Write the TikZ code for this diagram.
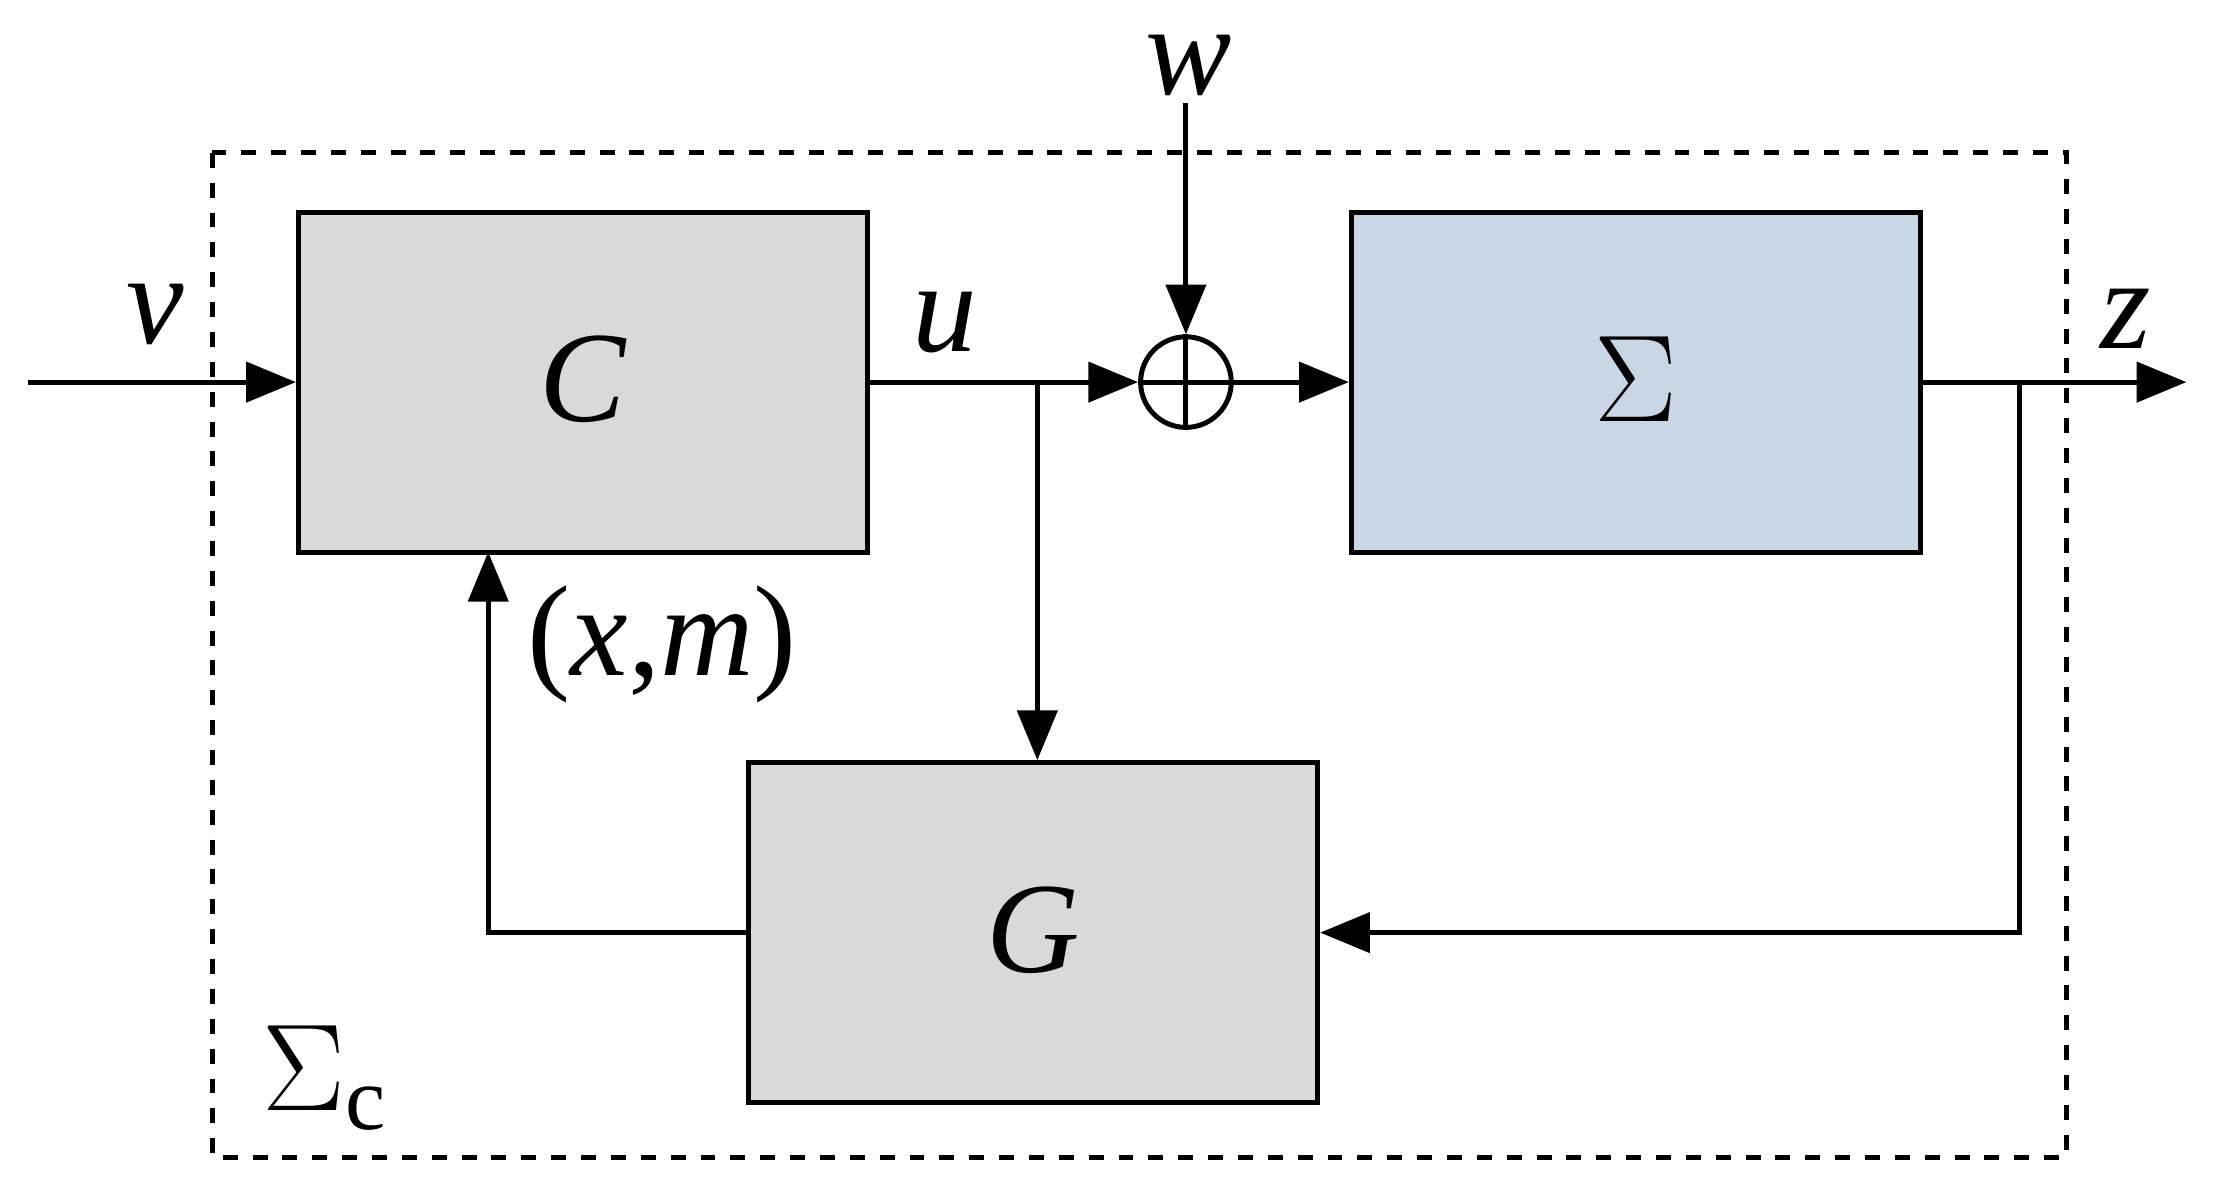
\documentclass[tikz,border=0pt]{standalone}
\usepackage{fontspec}
\setmainfont{Liberation Serif}
\usetikzlibrary{arrows.meta}
\definecolor{blockgray}{RGB}{217,217,217}
\definecolor{blockblue}{RGB}{201,214,229}
\begin{document}
\begin{tikzpicture}[x=0.01cm,y=-0.01cm,
  line width=1pt,
  blk/.style={draw,line width=1pt,minimum width=4.02cm,minimum height=2.4cm,inner sep=0pt},
  lbl/.style={font=\fontsize{26}{30}\selectfont\itshape},
  arr/.style={-{Triangle[length=10pt,width=8pt]}}]
  \useasboundingbox (0,0) rectangle (1568,848);
  % outer dashed region
  \draw[dashed] (150,108) rectangle (1460,818);
  % blocks
  \node[blk,fill=blockgray] (C) at (412,270) {};
  \node[lbl] at (412,268) {C};
  \node[blk,fill=blockblue] (S) at (1156,270) {};
  \node[font=\fontsize{26}{30}\selectfont] at (1156,268) {$\Sigma$};
  \node[blk,fill=blockgray] (G) at (730,659) {};
  \node[lbl] at (730,657) {G};
  \node[draw,circle,minimum size=0.64cm,inner sep=0pt] (sum) at (838,270) {};
  \draw (sum.north) -- (sum.south) (sum.west) -- (sum.east);
  % helper points
  \coordinate (vin) at (20,270);
  \coordinate (j1) at (733,270);
  \coordinate (j2) at (1427,270);
  \coordinate (zout) at (1545,270);
  % labels
  \node[lbl] at (110,222) {v};
  \node[lbl] at (668,228) {u};
  \node[lbl,inner sep=1pt] (wl) at (840,46) {w};
  \node[lbl] at (1502,225) {z};
  \node[font=\fontsize{26}{30}\selectfont] at (468,455) {(\textit{x},\textit{m})};
  \node[font=\fontsize{26}{30}\selectfont] at (230,762) {$\Sigma$\textsubscript{c}};
  % connectors
  \draw[arr] (vin) -- (C.west);
  \draw[arr] (C.east) -- (sum.west);
  \draw[arr] (wl.south -| sum.north) -- (sum.north);
  \draw[arr] (sum.east) -- (S.west);
  \draw[arr] (S.east) -- (zout);
  \draw[arr] (j1) -- (j1 |- G.north);
  \draw[arr] (j2) |- (G.east);
  \draw[arr] (G.west) -| (345,390);
\end{tikzpicture}
\end{document}
